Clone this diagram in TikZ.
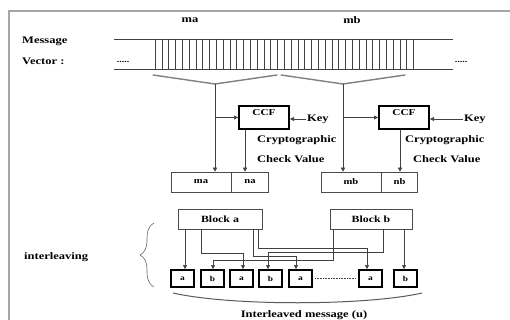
\documentclass[tikz,border=0pt]{standalone}
\usepackage{fontspec}
\setmainfont{Liberation Serif}[FakeStretch=1.25]
\usetikzlibrary{arrows.meta,decorations.pathreplacing}
\begin{document}
\begin{tikzpicture}[x=1pt,y=-1pt,
  font=\bfseries\fontsize{10}{12}\selectfont,
  line/.style={draw=black!75, line width=0.6pt},
  arr/.style={line, -{Triangle[length=4pt,width=4pt]}},
  thickbox/.style={draw=black, line width=1.8pt, minimum width=50.2pt, minimum height=23.2pt, inner sep=0pt, text height=6.5pt, text depth=10pt, font=\bfseries\fontsize{9}{10}\selectfont},
  cell/.style={draw=black!70, line width=0.6pt, minimum height=20pt, inner sep=0pt, font=\bfseries\fontsize{8.5}{9}\selectfont},
  blockbox/.style={draw=black!70, line width=0.6pt, minimum height=20pt, inner sep=0pt, font=\bfseries\fontsize{9.5}{10}\selectfont},
  small/.style={draw=black, line width=2pt, minimum width=23pt, minimum height=17pt, inner sep=0pt, font=\bfseries\fontsize{7.5}{8}\selectfont},
  lbl/.style={inner sep=0pt, anchor=west},
  bracel/.style={draw=gray, line width=1.4pt, line cap=round, line join=round}
  ]
\useasboundingbox (0,0) rectangle (510,320);
% frame
\draw[gray!70, line width=1.5pt] (9,320) -- (9,11) -- (510,11);

% top labels
\node (tma) at (190,20) {ma};
\node (tmb) at (352,20) {mb};
\node[lbl] (msg) at (22,41) {Message};
\node[lbl] (vec) at (22,61) {Vector :};

% message vector
\draw[line] (114,39) -- (453,39);
\draw[line] (114,69) -- (453,69);
\foreach \i in {0,...,38} \draw[line] ({155+\i*6.8},39) -- ({155+\i*6.8},69);
\node[inner sep=0pt, font=\bfseries\fontsize{8}{8}\selectfont] (dl) at (123,62) {.....};
\node[inner sep=0pt, font=\bfseries\fontsize{8}{8}\selectfont] (dr) at (461,62) {.....};

% braces under vector
\coordinate (ta) at (215,84);
\coordinate (tb) at (343,84);
\draw[bracel] (153,75) -- (ta) -- (277,75);
\draw[bracel] (281,75) -- (tb) -- (405,75);

% CCF boxes
\node[thickbox] (ccfa) at (264,117.5) {CCF};
\node[thickbox] (ccfb) at (404,117.5) {CCF};
\node[inner sep=1pt, anchor=west] (keya) at (306,119) {Key};
\node[inner sep=1pt, anchor=west] (keyb) at (463,119) {Key};
\draw[arr] (keya.west) -- (keya.west -| ccfa.east);
\draw[arr] (keyb.west) -- (keyb.west -| ccfb.east);
\node[lbl] (cva1) at (257,140) {Cryptographic};
\node[lbl] (cva2) at (257,159) {Check Value};
\node[lbl] (cvb1) at (405,140) {Cryptographic};
\node[lbl] (cvb2) at (413,159) {Check Value};

% ma/na and mb/nb cells
\node[cell, minimum width=60pt] (ma) at (201,182) {ma};
\node[cell, minimum width=37pt, anchor=west] (na) at (ma.east) {na};
\node[cell, minimum width=60pt] (mb) at (351,182) {mb};
\node[cell, minimum width=36pt, anchor=west] (nb) at (mb.east) {nb};

% vertical connectors
\draw[arr] (ta) -- (ta |- ma.north);
\draw[arr] (tb) -- (tb |- mb.north);
\draw[arr] (ta |- ccfa.west) -- (ccfa.west);
\draw[arr] (tb |- ccfb.west) -- (ccfb.west);
\draw[arr] ([xshift=-19pt]ccfa.south) -- ([xshift=-19pt]ccfa.south |- na.north);
\draw[arr] ([xshift=-4pt]ccfb.south) -- ([xshift=-4pt]ccfb.south |- nb.north);

% blocks
\node[blockbox, minimum width=84pt] (blka) at (220,219) {Block a};
\node[blockbox, minimum width=82pt] (blkb) at (371,219) {Block b};

% interleaved small boxes
\node[small] (s1) at (182.5,278.5) {a};
\node[small] (s2) at (212.5,278.5) {b};
\node[small] (s3) at (241.5,278.5) {a};
\node[small] (s4) at (270.5,278.5) {b};
\node[small] (s5) at (300.5,278.5) {a};
\node[small] (s6) at (370.5,278.5) {a};
\node[small] (s7) at (405.5,278.5) {b};
\draw[line, densely dotted] ([xshift=2pt]s5.east) -- ([xshift=-2pt]s6.west);

% wires
\draw[arr] ([xshift=-35pt]blka.south) -- ([xshift=2.5pt]s1.north);
\draw[arr] ([xshift=-19pt]blka.south) -- ++(0,24) -| ([xshift=1.5pt]s3.north);
\draw[arr] ([xshift=33pt]blka.south) -- ++(0,27) -| ([xshift=-4.5pt]s5.north);
\draw[arr] ([xshift=38pt]blka.south) -- ++(0,19) -| ([xshift=-3.5pt]s6.north);
\draw[arr] ([xshift=-38pt]blkb.south) -- ++(0,31) -| ([xshift=0.5pt]s2.north);
\draw[arr] ([xshift=12pt]blkb.south) -- ++(0,23) -| ([xshift=-2.5pt]s4.north);
\draw[arr] ([xshift=33pt]blkb.south) -- ([xshift=-1.5pt]s7.north);

% left brace and label
\draw[draw=black!60, line width=0.6pt, decorate, decoration={brace, amplitude=14pt}] (154,287) -- (154,223);
\node[lbl] (intl) at (24,257) {interleaving};

% bottom curve and label
\coordinate (cl) at (173,293);
\coordinate (cr) at (422,293);
\draw[draw=black!65, line width=1pt] (cl) .. controls (230,306) and (365,306) .. (cr);
\node (iml) at (304,315) {Interleaved message (u)};
\end{tikzpicture}
\end{document}
